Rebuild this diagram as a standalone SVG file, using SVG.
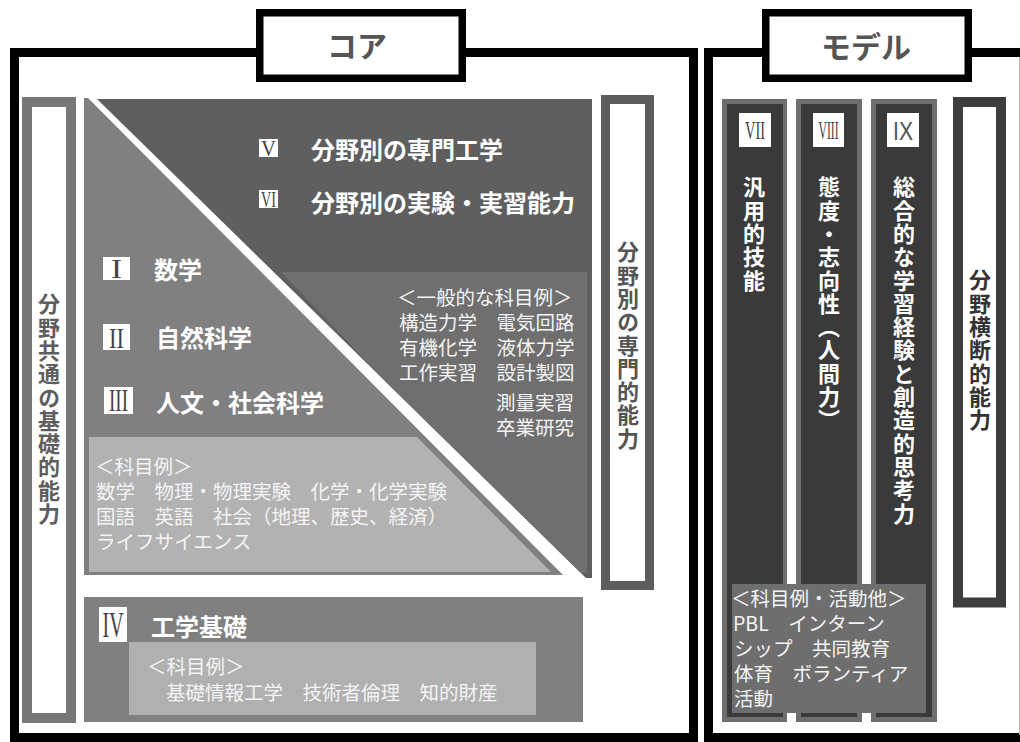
<svg xmlns="http://www.w3.org/2000/svg" width="1020" height="742" viewBox="0 0 1020 742">
<style>
  .j { font-family: "Noto Sans CJK JP", "Noto Sans", sans-serif; }
  .hd { font-size: 24px; font-weight: bold; fill: #ffffff; }
  .ex { font-size: 19.5px; fill: #f4f4f4; }
  .vt { font-size: 22px; font-weight: bold; writing-mode: vertical-rl; letter-spacing: 1.3px; }
  .rn { font-family: "Liberation Serif", "DejaVu Serif", serif; fill: #444; text-anchor: middle; }
  .frame { fill: #ffffff; stroke: #000000; stroke-width: 9; }
  .label { fill: #ffffff; stroke: #000000; stroke-width: 7.5; }
  .ttl { font-size: 30px; font-weight: bold; fill: #555555; text-anchor: middle; }
  .nb { fill: #ffffff; }
</style>
<rect width="1020" height="742" fill="#ffffff"/>

<g id="core-frame">
  <rect class="frame" x="14.5" y="52.5" width="679" height="685"/>
</g>
<g id="model-frame">
  <rect class="frame" x="708.5" y="52.5" width="330" height="685"/>
  <line x1="1019.5" y1="57" x2="1019.5" y2="735" stroke="#bbbbbb" stroke-width="1"/>
</g>
<g id="core-label">
  <rect class="label" x="259.75" y="12.75" width="202.5" height="65.5"/>
  <text class="j ttl" x="357" y="57">コア</text>
</g>
<g id="model-label">
  <rect class="label" x="765.75" y="12.75" width="202.5" height="65.5"/>
  <text class="j ttl" x="866" y="58">モデル</text>
</g>

<g id="common-basic-ability">
  <rect x="27" y="102" width="44" height="616" fill="#ffffff" stroke="#777777" stroke-width="10"/>
  <text class="j vt" x="49" y="293" fill="#5e5e5e">分野共通の基礎的能力</text>
</g>

<g id="basic-subjects">
  <polygon points="84,98 88,98 563,575 84,575" fill="#808080"/>
  <polygon points="89,437 417,437 551,572 89,572" fill="#b2b2b2"/>
  <rect class="nb" x="103" y="257" width="27" height="23"/>
  <text class="rn" x="116.5" y="278" font-size="27" textLength="11" lengthAdjust="spacingAndGlyphs">I</text>
  <text class="j hd" x="154" y="279">数学</text>
  <rect class="nb" x="103" y="324" width="27" height="26"/>
  <text class="rn" x="116.5" y="348" font-size="30" textLength="15" lengthAdjust="spacingAndGlyphs">II</text>
  <text class="j hd" x="156" y="347">自然科学</text>
  <rect class="nb" x="104" y="387" width="29" height="27"/>
  <text class="rn" x="118.5" y="411" font-size="32" textLength="19" lengthAdjust="spacingAndGlyphs">III</text>
  <text class="j hd" x="156" y="412">人文・社会科学</text>
  <text class="j ex" x="95" y="474">＜科目例＞</text>
  <text class="j ex" x="96" y="499">数学　物理・物理実験　化学・化学実験</text>
  <text class="j ex" x="96" y="524">国語　英語　社会（地理、歴史、経済）</text>
  <text class="j ex" x="96" y="549">ライフサイエンス</text>
</g>

<g id="specialized-subjects">
  <polygon points="97,99 592,99 592,578 586,578" fill="#5f5f5f"/>
  <polygon points="281,272 587,272 587,573 581,573 391,387" fill="#6f6f6f"/>
  <rect class="nb" x="259" y="139" width="19" height="18"/>
  <text class="rn" x="268.5" y="156" font-size="23" textLength="15" lengthAdjust="spacingAndGlyphs">V</text>
  <text class="j hd" x="311" y="159">分野別の専門工学</text>
  <rect class="nb" x="259" y="190" width="19" height="18"/>
  <text class="rn" x="268.5" y="207" font-size="23" textLength="15" lengthAdjust="spacingAndGlyphs">VI</text>
  <text class="j hd" x="311" y="212">分野別の実験・実習能力</text>
  <text class="j ex" x="397" y="305">＜一般的な科目例＞</text>
  <text class="j ex" x="399" y="330">構造力学　電気回路</text>
  <text class="j ex" x="399" y="355">有機化学　液体力学</text>
  <text class="j ex" x="399" y="380">工作実習　設計製図</text>
  <text class="j ex" x="496" y="410">測量実習</text>
  <text class="j ex" x="496" y="435">卒業研究</text>
</g>

<g id="field-specific-ability">
  <rect x="605.5" y="99.5" width="44" height="486" fill="#ffffff" stroke="#5c5c5c" stroke-width="9"/>
  <text class="j vt" x="628" y="241" fill="#555555">分野別の専門的能力</text>
</g>

<g id="engineering-basics">
  <rect x="84" y="597" width="499" height="125" fill="#808080"/>
  <rect x="129" y="642" width="407" height="73" fill="#b0b0b0"/>
  <rect class="nb" x="99" y="607" width="28" height="35"/>
  <text class="rn" x="113" y="637" font-size="36" textLength="21" lengthAdjust="spacingAndGlyphs">IV</text>
  <text class="j hd" x="151" y="636">工学基礎</text>
  <text class="j ex" x="147" y="674">＜科目例＞</text>
  <text class="j ex" x="166" y="700">基礎情報工学　技術者倫理　知的財産</text>
</g>

<g id="generic-skills">
  <rect x="722" y="99" width="65" height="623" fill="#6e6e6e"/>
  <rect x="727" y="104" width="56" height="613" fill="#3a3a3a"/>
  <rect class="nb" x="739" y="113" width="32" height="34"/>
  <text class="rn" x="755" y="139" font-size="25" textLength="20" lengthAdjust="spacingAndGlyphs">VII</text>
  <text class="j vt" x="754" y="176" fill="#ffffff">汎用的技能</text>
</g>
<g id="attitude">
  <rect x="796" y="99" width="66" height="623" fill="#6e6e6e"/>
  <rect x="801" y="104" width="56" height="613" fill="#3a3a3a"/>
  <rect class="nb" x="813" y="113" width="31" height="34"/>
  <text class="rn" x="828.5" y="139" font-size="25" textLength="20" lengthAdjust="spacingAndGlyphs">VIII</text>
  <text class="j vt" x="829" y="176" fill="#ffffff">態度・志向性（人間力）</text>
</g>
<g id="integrated-learning">
  <rect x="871" y="99" width="66" height="623" fill="#6e6e6e"/>
  <rect x="876" y="104" width="56" height="613" fill="#3a3a3a"/>
  <rect class="nb" x="887" y="113" width="32" height="34"/>
  <text x="903" y="139.5" font-family="Liberation Sans, Arial, sans-serif" font-size="25" fill="#555" text-anchor="middle" textLength="20" lengthAdjust="spacingAndGlyphs">IX</text>
  <text class="j vt" x="904" y="176" fill="#ffffff">総合的な学習経験と創造的思考力</text>
</g>
<g id="activities">
  <rect x="732" y="584" width="194" height="129" fill="#6e6e6e"/>
  <text class="j ex" x="731" y="606">＜科目例・活動他＞</text>
  <text class="j ex" x="733" y="631">PBL　インターン</text>
  <text class="j ex" x="734" y="656">シップ　共同教育</text>
  <text class="j ex" x="734" y="681">体育　ボランティア</text>
  <text class="j ex" x="734" y="706">活動</text>
</g>
<g id="cross-field-ability">
  <rect x="958" y="102" width="43" height="500.5" fill="#ffffff" stroke="#3d3d3d" stroke-width="10"/>
  <text class="j vt" x="980" y="269" fill="#333333">分野横断的能力</text>
</g>

<g id="connectors"></g>
</svg>
